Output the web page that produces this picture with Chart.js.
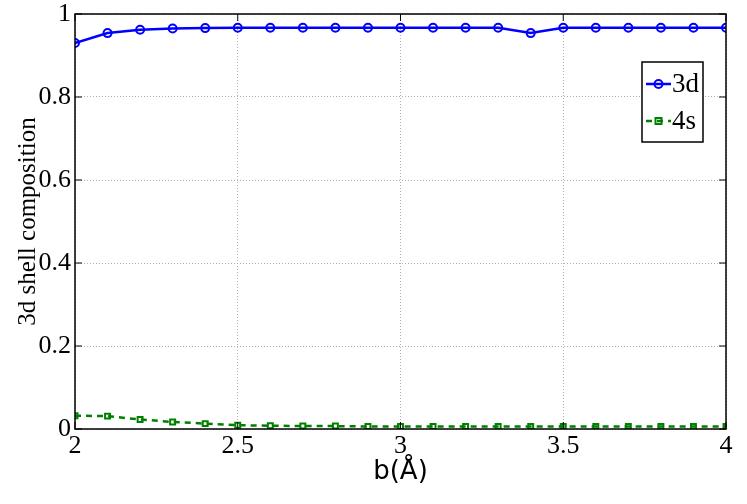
<!DOCTYPE html>
<html>
<head>
<meta charset="utf-8">
<script src="https://cdn.jsdelivr.net/npm/chart.js@4.4.0/dist/chart.umd.min.js"></script>
<style>
  html, body { margin: 0; padding: 0; background: #fff; }
  #wrap { width: 747px; height: 504px; }
</style>
</head>
<body>
<div id="wrap"><canvas id="chart" width="747" height="504"></canvas></div>
<script>
// 數據
const bValues = [2.0, 2.1, 2.2, 2.3, 2.4, 2.5, 2.6, 2.7, 2.8, 2.9, 3.0,
                 3.1, 3.2, 3.3, 3.4, 3.5, 3.6, 3.7, 3.8, 3.9, 4.0];
const comp3d = [0.930, 0.954, 0.962, 0.965, 0.966, 0.967, 0.967, 0.967, 0.967, 0.967, 0.967,
                0.967, 0.967, 0.967, 0.954, 0.967, 0.967, 0.967, 0.967, 0.967, 0.967];
const comp4s = [0.032, 0.031, 0.023, 0.017, 0.013, 0.009, 0.008, 0.007, 0.007, 0.006, 0.006,
                0.006, 0.006, 0.006, 0.006, 0.006, 0.006, 0.006, 0.006, 0.006, 0.006];
const xTicks = [2, 2.5, 3, 3.5, 4];
const yTicks = [0, 0.2, 0.4, 0.6, 0.8, 1];
const seriesNames = ['3d', '4s'];

const serif = "'Liberation Serif', 'Times New Roman', serif";

function toPoints(ys) {
    return bValues.map((x, i) => ({ x: x, y: ys[i] }));
}

// 邊框、內向刻度和圖例
const framePlugin = {
    id: 'frame',
    afterDatasetsDraw(chart) {
        const { ctx, chartArea: a, scales } = chart;
        ctx.save();
        ctx.strokeStyle = '#000';
        ctx.lineWidth = 1.5;
        ctx.strokeRect(a.left, a.top, a.right - a.left, a.bottom - a.top);
        ctx.lineWidth = 1;
        const t = 7;
        xTicks.forEach(v => {
            const px = scales.x.getPixelForValue(v);
            ctx.beginPath();
            ctx.moveTo(px, a.bottom); ctx.lineTo(px, a.bottom - t);
            ctx.moveTo(px, a.top); ctx.lineTo(px, a.top + t);
            ctx.stroke();
        });
        yTicks.forEach(v => {
            const py = scales.y.getPixelForValue(v);
            ctx.beginPath();
            ctx.moveTo(a.left, py); ctx.lineTo(a.left + t, py);
            ctx.moveTo(a.right, py); ctx.lineTo(a.right - t, py);
            ctx.stroke();
        });

        // 圖例
        const lx = 642, ly = 62, lw = 61, lh = 80;
        ctx.fillStyle = '#fff';
        ctx.fillRect(lx, ly, lw, lh);
        ctx.strokeStyle = '#000';
        ctx.lineWidth = 1.5;
        ctx.strokeRect(lx, ly, lw, lh);
        chart.data.datasets.forEach((ds, i) => {
            const cy = ly + 22 + i * 37;
            ctx.strokeStyle = ds.borderColor;
            ctx.lineWidth = ds.borderWidth;
            ctx.setLineDash(ds.borderDash || []);
            ctx.beginPath();
            ctx.moveTo(lx + 4, cy); ctx.lineTo(lx + 29, cy);
            ctx.stroke();
            ctx.setLineDash([]);
            ctx.lineWidth = 2;
            if (ds.pointStyle === 'circle') {
                ctx.beginPath();
                ctx.arc(lx + 16.5, cy, 4, 0, Math.PI * 2);
                ctx.stroke();
            } else {
                ctx.strokeRect(lx + 13.5, cy - 3, 6, 6);
            }
            ctx.fillStyle = '#000';
            ctx.font = '27px ' + serif;
            ctx.textAlign = 'left';
            ctx.textBaseline = 'middle';
            ctx.fillText(ds.label, lx + 30, cy + 1);
        });
        ctx.restore();
    }
};

function drawChart() {
    new Chart(document.getElementById('chart').getContext('2d'), {
        type: 'line',
        data: {
            datasets: [{
                label: seriesNames[0],
                data: toPoints(comp3d),
                borderColor: '#0000ff',
                borderWidth: 2.5,
                pointStyle: 'circle',
                pointRadius: 4,
                pointBorderWidth: 2,
                pointBorderColor: '#0000ff',
                pointBackgroundColor: 'rgba(0,0,0,0)',
                tension: 0
            }, {
                label: seriesNames[1],
                data: toPoints(comp4s),
                borderColor: '#008000',
                borderWidth: 2.5,
                borderDash: [6, 5],
                pointStyle: 'rect',
                pointRadius: 3.5,
                pointBorderWidth: 2,
                pointBorderColor: '#008000',
                pointBackgroundColor: 'rgba(0,0,0,0)',
                tension: 0
            }]
        },
        options: {
            responsive: false,
            animation: false,
            layout: { padding: { top: 14, right: 21, left: 0, bottom: 0 } },
            plugins: { legend: { display: false }, tooltip: { enabled: false } },
            scales: {
                x: {
                    type: 'linear',
                    min: 2, max: 4,
                    afterFit: s => { s.height = 75; },
                    afterBuildTicks: s => { s.ticks = xTicks.map(v => ({ value: v })); },
                    ticks: {
                        font: { family: serif, size: 26 },
                        color: '#000',
                        padding: 2,
                        maxRotation: 0,
                        callback: v => String(v)
                    },
                    grid: { color: '#b0b0b0', lineWidth: 1, drawTicks: false },
                    border: { display: false, dash: [1, 2] },
                    title: {
                        display: true,
                        text: 'b(Å)',
                        font: { family: "'DejaVu Sans', sans-serif", size: 26 },
                        color: '#000',
                        padding: { top: 0, bottom: 16 }
                    }
                },
                y: {
                    min: 0, max: 1,
                    afterFit: s => { s.width = 75; s.paddingTop = 0; s.paddingBottom = 0; },
                    afterBuildTicks: s => { s.ticks = yTicks.map(v => ({ value: v })); },
                    ticks: {
                        font: { family: serif, size: 26, lineHeight: 1 },
                        color: '#000',
                        padding: 4,
                        callback: v => String(Math.round(v * 10) / 10)
                    },
                    grid: { color: '#b0b0b0', lineWidth: 1, drawTicks: false },
                    border: { display: false, dash: [1, 2] },
                    title: {
                        display: true,
                        text: '3d shell composition',
                        font: { family: serif, size: 25 },
                        color: '#000',
                        padding: { top: 13, bottom: 0 }
                    }
                }
            }
        },
        plugins: [framePlugin]
    });
}

Promise.all([
    document.fonts.load("26px 'Liberation Serif'"),
    document.fonts.load("26px 'DejaVu Sans'")
]).then(drawChart, drawChart);
</script>
</body>
</html>
